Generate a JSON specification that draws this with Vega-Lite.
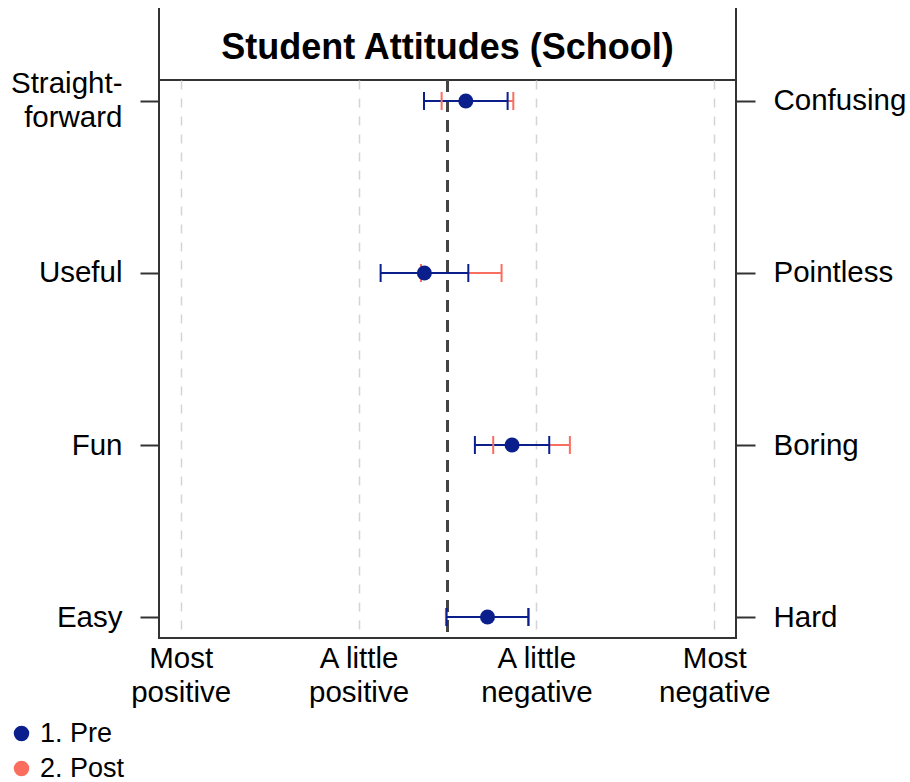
{
  "$schema": "https://vega.github.io/schema/vega-lite/v6.json",
  "width": 577,
  "height": 558,
  "autosize": {"type": "none"},
  "padding": {"left": 159, "top": 80, "right": 174, "bottom": 144},
  "background": "white",
  "config": {
    "font": "Liberation Sans",
    "view": {"stroke": "#333333", "strokeWidth": 2}
  },
  "title": {
    "text": "Student Attitudes (School)",
    "font": "Liberation Sans",
    "fontSize": 36,
    "fontWeight": "bold",
    "color": "black",
    "anchor": "middle",
    "frame": "group",
    "baseline": "alphabetic",
    "offset": -88
  },
  "data": {
    "values": [
      {"row": 4, "series": "2. Post", "mean": 2.668, "lo": 2.467, "hi": 2.870},
      {"row": 3, "series": "2. Post", "mean": 2.578, "lo": 2.351, "hi": 2.804},
      {"row": 2, "series": "2. Post", "mean": 2.972, "lo": 2.757, "hi": 3.188},
      {"row": 1, "series": "2. Post", "mean": 2.724, "lo": 2.491, "hi": 2.958},
      {"row": 4, "series": "1. Pre", "mean": 2.603, "lo": 2.368, "hi": 2.838},
      {"row": 3, "series": "1. Pre", "mean": 2.370, "lo": 2.124, "hi": 2.617},
      {"row": 2, "series": "1. Pre", "mean": 2.863, "lo": 2.654, "hi": 3.072},
      {"row": 1, "series": "1. Pre", "mean": 2.725, "lo": 2.495, "hi": 2.954}
    ]
  },
  "resolve": {"scale": {"y": "independent"}},
  "layer": [
    {
      "layer": [
        {
          "mark": {"type": "rule", "color": "#444444", "strokeWidth": 2, "strokeDash": [12, 8]},
          "encoding": {"x": {"datum": 2.5}}
        },
        {
          "mark": {"type": "rule", "color": "#333333", "strokeWidth": 2, "clip": false},
          "encoding": {
            "x": {"datum": 0.878},
            "y": {"datum": 4.122},
            "y2": {"datum": 4.54}
          }
        },
        {
          "mark": {"type": "rule", "color": "#333333", "strokeWidth": 2, "clip": false},
          "encoding": {
            "x": {"datum": 4.122},
            "y": {"datum": 4.122},
            "y2": {"datum": 4.54}
          }
        },
        {
          "mark": {"type": "rule", "strokeWidth": 2, "opacity": 1},
          "encoding": {
            "x": {"field": "lo", "type": "quantitative"},
            "x2": {"field": "hi"},
            "y": {"field": "row", "type": "quantitative"},
            "color": {"field": "series", "type": "nominal"}
          }
        },
        {
          "mark": {"type": "tick", "orient": "vertical", "size": 18, "thickness": 2, "opacity": 1},
          "encoding": {
            "x": {"field": "lo", "type": "quantitative"},
            "y": {"field": "row", "type": "quantitative"},
            "color": {"field": "series", "type": "nominal"}
          }
        },
        {
          "mark": {"type": "tick", "orient": "vertical", "size": 18, "thickness": 2, "opacity": 1},
          "encoding": {
            "x": {
              "field": "hi",
              "type": "quantitative",
              "scale": {"domain": [0.878, 4.122], "nice": false, "zero": false},
              "axis": {
                "values": [1, 2, 3, 4],
                "title": null,
                "ticks": false,
                "domain": false,
                "grid": true,
                "gridColor": "#d4d4d4",
                "gridWidth": 1.5,
                "gridDash": [9, 9],
                "labelFontSize": 29.5,
                "labelColor": "black",
                "labelPadding": 6,
                "labelLineHeight": 34,
                "labelExpr": "datum.value == 1 ? ['Most', 'positive'] : datum.value == 2 ? ['A little', 'positive'] : datum.value == 3 ? ['A little', 'negative'] : ['Most', 'negative']"
              }
            },
            "y": {
              "field": "row",
              "type": "quantitative",
              "scale": {"domain": [0.878, 4.122], "nice": false, "zero": false},
              "axis": {
                "orient": "left",
                "values": [1, 2, 3, 4],
                "title": null,
                "grid": false,
                "domain": false,
                "tickSize": 19,
                "tickWidth": 2,
                "tickColor": "#333333",
                "labelFontSize": 29.5,
                "labelColor": "black",
                "labelPadding": 18,
                "labelLineHeight": 34,
                "labelBaseline": "middle",
                "labelOffset": {"condition": {"test": "datum.value == 4", "value": -17}, "value": 0},
                "labelExpr": "datum.value == 4 ? ['Straight-', 'forward'] : datum.value == 3 ? 'Useful' : datum.value == 2 ? 'Fun' : 'Easy'"
              }
            },
            "color": {"field": "series", "type": "nominal"}
          }
        }
      ]
    },
    {
      "transform": [{"filter": "datum.series == '1. Pre'"}],
      "mark": {"type": "point", "filled": true, "size": 225, "opacity": 1},
      "encoding": {
        "x": {"field": "mean", "type": "quantitative"},
        "y": {
          "field": "row",
          "type": "quantitative",
          "scale": {"domain": [0.878, 4.122], "nice": false, "zero": false},
          "axis": {
            "orient": "right",
            "values": [1, 2, 3, 4],
            "title": null,
            "grid": false,
            "domain": false,
            "tickSize": 19,
            "tickWidth": 2,
            "tickColor": "#333333",
            "labelFontSize": 29.5,
            "labelColor": "black",
            "labelPadding": 18,
            "labelExpr": "datum.value == 4 ? 'Confusing' : datum.value == 3 ? 'Pointless' : datum.value == 2 ? 'Boring' : 'Hard'"
          }
        },
        "color": {
          "field": "series",
          "type": "nominal",
          "scale": {"domain": ["1. Pre", "2. Post"], "range": ["#0A1F8C", "#FA6E5F"]},
          "legend": {
            "orient": "none",
            "legendX": -151,
            "legendY": 640,
            "title": null,
            "direction": "vertical",
            "symbolType": "circle",
            "symbolSize": 240,
            "symbolStrokeWidth": 0,
            "symbolOpacity": 1,
            "labelFontSize": 27,
            "labelColor": "black",
            "labelOffset": 5,
            "rowPadding": 7,
            "padding": 0
          }
        }
      }
    }
  ]
}
